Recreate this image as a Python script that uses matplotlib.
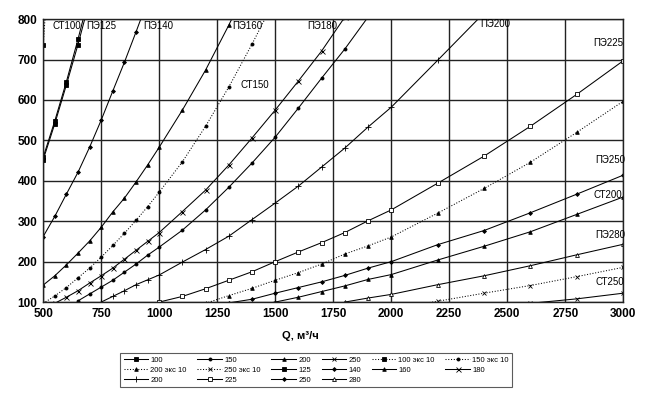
import matplotlib
matplotlib.use("Agg")
import matplotlib.pyplot as plt

plt.rcParams['font.family'] = ['Liberation Sans', 'DejaVu Sans']

# flow, m3/h and losses for every pipe
q_st100 = [500, 550, 600, 650, 700]
v_st100 = [458, 548, 645, 750, 862]

q_st150 = [650, 700, 750, 800, 850, 900, 950, 1000, 1100, 1200, 1300, 1400, 1500, 1600, 1700, 1800, 1900]
v_st150 = [103, 120, 137, 154, 174, 194, 216, 236, 278, 328, 384, 444, 508, 580, 654, 726, 805]

q_st200 = [1450, 1500, 1600, 1700, 1800, 1900, 2000, 2200, 2400, 2600, 2800, 3000]
v_st200 = [95, 100, 112, 126, 140, 156, 168, 204, 238, 274, 317, 360]

q_st250 = [2600, 2800, 3000]
v_st250 = [97, 108, 122]

q_exp100 = [500, 550]
v_exp100 = [735, 1150]

q_exp150 = [500, 550, 600, 650, 700, 750, 800, 850, 900, 950, 1000, 1100, 1200, 1300, 1400, 1500]
v_exp150 = [97, 115, 136, 160, 184, 211, 240, 270, 302, 336, 372, 447, 535, 632, 738, 850]

q_exp200 = [1200, 1300, 1400, 1500, 1600, 1700, 1800, 1900, 2000, 2200, 2400, 2600, 2800, 3000]
v_exp200 = [97, 116, 134, 154, 173, 194, 219, 239, 261, 320, 381, 446, 520, 597]

q_exp250 = [2000, 2200, 2400, 2600, 2800, 3000]
v_exp250 = [84, 102, 122, 141, 163, 186]

q_pe125 = [500, 550, 600, 650, 700]
v_pe125 = [452, 541, 637, 737, 845]

q_pe140 = [500, 550, 600, 650, 700, 750, 800, 850, 900, 950]
v_pe140 = [262, 312, 367, 421, 483, 550, 622, 693, 768, 845]

q_pe160 = [500, 550, 600, 650, 700, 750, 800, 850, 900, 950, 1000, 1100, 1200, 1300, 1400]
v_pe160 = [142, 165, 192, 221, 251, 285, 323, 357, 397, 439, 483, 575, 674, 785, 905]

q_pe180 = [550, 600, 650, 700, 750, 800, 850, 900, 950, 1000, 1100, 1200, 1300, 1400, 1500, 1600, 1700, 1800]
v_pe180 = [97, 112, 128, 147, 165, 184, 206, 228, 250, 272, 324, 377, 439, 506, 575, 647, 721, 805]

q_pe200 = [750, 800, 850, 900, 950, 1000, 1100, 1200, 1300, 1400, 1500, 1600, 1700, 1800, 1900, 2000, 2200, 2400]
v_pe200 = [100, 114, 128, 143, 155, 167, 199, 230, 263, 304, 345, 387, 434, 481, 533, 582, 698, 815]

q_pe225 = [1000, 1100, 1200, 1300, 1400, 1500, 1600, 1700, 1800, 1900, 2000, 2200, 2400, 2600, 2800, 3000]
v_pe225 = [100, 114, 133, 154, 175, 200, 224, 247, 272, 301, 328, 394, 461, 535, 614, 697]

q_pe250 = [1300, 1400, 1500, 1600, 1700, 1800, 1900, 2000, 2200, 2400, 2600, 2800, 3000]
v_pe250 = [98, 107, 122, 136, 150, 166, 184, 200, 242, 277, 321, 367, 414]

q_pe280 = [1800, 1900, 2000, 2200, 2400, 2600, 2800, 3000]
v_pe280 = [100, 110, 119, 143, 165, 190, 217, 243]

# curve captions inside the plot
cap_text = ["СТ100", "ПЭ125", "ПЭ140", "ПЭ160", "ПЭ180", "ПЭ200", "ПЭ225", "СТ150", "ПЭ250", "СТ200", "ПЭ280", "СТ250"]
cap_q = [539, 685, 931, 1315, 1638, 2384, 2871, 1349, 2879, 2871, 2879, 2879]
cap_v = [783, 783, 783, 783, 783, 788, 740, 637, 451, 365, 266, 150]

fig = plt.figure(figsize=(6.54, 3.98), dpi=100)
ax = fig.add_axes([0.066, 0.241, 0.887, 0.711])

def line(q, v, ls, mk, label, mfc='k', ms=2.6):
    h, = ax.plot(q, v, color='k', ls=ls, lw=0.75, marker=mk, ms=ms,
                 mfc=mfc, mec='k', mew=0.6, label=label)
    return h

h = {}
h['100'] = line(q_st100, v_st100, '-', 's', '100', ms=2.4)
h['150'] = line(q_st150, v_st150, '-', 'o', '150', ms=2.2)
h['200'] = line(q_st200, v_st200, '-', '^', '200', ms=2.6)
h['250'] = line(q_st250, v_st250, '-', 'x', '250', ms=3.2)
h['e100'] = line(q_exp100, v_exp100, ':', 's', '100 экс 10', ms=2.4)
h['e150'] = line(q_exp150, v_exp150, ':', 'o', '150 экс 10', ms=2.2)
h['e200'] = line(q_exp200, v_exp200, ':', '^', '200 экс 10', ms=2.6)
h['e250'] = line(q_exp250, v_exp250, ':', 'x', '250 экс 10', ms=3.2)
h['p125'] = line(q_pe125, v_pe125, '-', 's', '125', ms=2.6)
h['p140'] = line(q_pe140, v_pe140, '-', 'D', '140', ms=2.0)
h['p160'] = line(q_pe160, v_pe160, '-', '^', '160', ms=2.6)
h['p180'] = line(q_pe180, v_pe180, '-', 'x', '180', ms=3.6)
h['p200'] = line(q_pe200, v_pe200, '-', '+', '200', ms=4.2)
h['p225'] = line(q_pe225, v_pe225, '-', 's', '225', mfc='white', ms=3.0)
h['p250'] = line(q_pe250, v_pe250, '-', 'D', '250', ms=2.0)
h['p280'] = line(q_pe280, v_pe280, '-', '^', '280', mfc='white', ms=2.8)

for t, q, v in zip(cap_text, cap_q, cap_v):
    ax.text(q, v, t, fontsize=7, ha='left', va='center')

ax.set_xlim(500, 3000)
ax.set_ylim(100, 800)
ax.set_xticks(range(500, 3001, 250))
ax.set_yticks(range(100, 801, 100))
ax.grid(True, color='#222222', lw=1.0)
ax.set_axisbelow(True)
for s in ax.spines.values():
    s.set_color('#222222')
    s.set_linewidth(1.0)
ax.tick_params(length=0, labelsize=8.5, pad=4)
for lbl in ax.get_xticklabels() + ax.get_yticklabels():
    lbl.set_fontweight('bold')

fig.text(0.46, 0.155, "Q, м³/ч", fontsize=8, fontweight='bold', ha='center', va='center')

# legend is filled column by column, so list it in that order
order = ['100', 'e200', 'p200', '150', 'e250', 'p225', '200', 'p125', 'p250',
         '250', 'p140', 'p280', 'e100', 'p160', 'e150', 'p180']
leg = fig.legend([h[k] for k in order], [h[k].get_label() for k in order],
                 loc='upper left', bbox_to_anchor=(0.178, 0.123), ncol=6,
                 fontsize=5.5, frameon=True, fancybox=False, edgecolor='#333333',
                 handlelength=3.2, handletextpad=0.3, columnspacing=1.4,
                 borderpad=0.45, labelspacing=0.35)
leg.get_frame().set_linewidth(0.8)

fig.savefig("out.png", dpi=100)
